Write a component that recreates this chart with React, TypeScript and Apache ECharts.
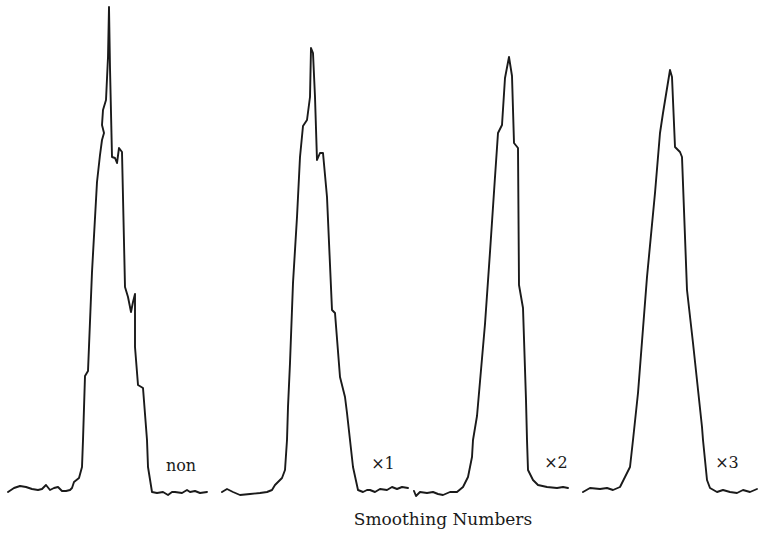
import React, { useEffect, useRef } from "react";
import * as echarts from "echarts";

// Each trace: [channel, intensity] pairs
const traceNon: [number, number][] = [
  [8, 8], [14, 12], [20, 14], [26, 13], [32, 11], [38, 10], [42, 11], [46, 15], [50, 10], [54, 12],
  [58, 13], [62, 9], [66, 9], [70, 10], [72, 12], [74, 18], [79, 22], [82, 33], [83, 60], [85, 124],
  [88, 129], [92, 228], [96, 300], [97, 318], [100, 345], [102, 360], [104, 367], [102, 375], [103, 390],
  [106, 400], [108, 443], [109, 493], [110, 432], [112, 343], [115, 342], [117, 337], [119, 352],
  [122, 348], [125, 213], [128, 203], [131, 188], [133, 198], [135, 206], [135, 153], [138, 115],
  [143, 112], [147, 60], [148, 33], [152, 8], [157, 7], [163, 8], [168, 5], [172, 8], [175, 8],
  [182, 7], [187, 10], [190, 8], [195, 9], [200, 7], [207, 8],
];
const traceX1: [number, number][] = [
  [222, 8], [227, 11], [233, 8], [240, 5], [250, 6], [260, 7], [267, 8], [272, 10], [275, 15],
  [282, 22], [285, 30], [287, 60], [288, 93], [290, 137], [293, 217], [297, 283], [300, 343],
  [303, 374], [307, 380], [310, 403], [311, 452], [313, 447], [315, 403], [317, 340], [320, 347],
  [323, 347], [327, 303], [332, 190], [335, 187], [340, 123], [345, 103], [347, 87], [350, 60],
  [353, 33], [358, 10], [363, 8], [367, 10], [370, 10], [375, 8], [380, 11], [387, 10], [392, 13],
  [397, 11], [402, 13], [408, 12],
];
const traceX2: [number, number][] = [
  [414, 9], [416, 4], [420, 8], [427, 7], [433, 8], [438, 6],
  [443, 5], [450, 8], [457, 8], [463, 13], [468, 23], [472, 43], [473, 60], [477, 84], [485, 176],
  [490, 248], [495, 323], [498, 367], [502, 375], [505, 422], [509, 443], [512, 424], [514, 357],
  [518, 352], [519, 215], [523, 192], [526, 100], [527, 60], [528, 30], [533, 20], [538, 15],
  [547, 13], [557, 12], [563, 13], [568, 12],
];
const traceX3: [number, number][] = [
  [583, 8], [590, 12], [600, 11], [607, 12], [613, 10], [620, 13], [625, 23], [630, 33], [633, 60],
  [638, 107], [647, 223], [655, 307], [660, 367], [663, 387], [670, 430], [672, 423], [675, 353],
  [680, 348], [682, 343], [687, 210], [693, 157], [702, 73], [703, 60], [707, 20], [710, 12],
  [717, 8], [723, 10], [730, 8], [737, 7], [743, 10], [750, 8], [757, 11],
];
const traces = [traceNon, traceX1, traceX2, traceX3];
const traceLabels = ["non", "×1", "×2", "×3"];
const axisTitle = "Smoothing Numbers";

export default function App() {
  const ref = useRef<HTMLDivElement>(null);
  useEffect(() => {
    if (!ref.current) return;
    const chart = echarts.init(ref.current, undefined, { renderer: "svg" });
    const labelPos = [
      [181, 465],
      [383, 463],
      [556, 462],
      [727, 462],
    ];
    chart.setOption({
      animation: false,
      backgroundColor: "#ffffff",
      grid: { left: 0, right: 0, top: 0, bottom: 36 },
      xAxis: { type: "value", min: 0, max: 758, show: false },
      yAxis: { type: "value", min: 0, max: 500, show: false },
      series: traces.map((t, i) => ({
        type: "line",
        name: traceLabels[i],
        data: t,
        showSymbol: false,
        symbol: "none",
        smooth: false,
        lineStyle: { color: "#1a1a1a", width: 1.9, join: "round", cap: "round" },
      })),
      graphic: [
        ...traceLabels.map((s, i) => ({
          type: "text",
          x: labelPos[i][0],
          y: labelPos[i][1],
          style: {
            text: s,
            fill: "#1a1a1a",
            font: "16px 'DejaVu Serif'",
            textAlign: "center",
            textVerticalAlign: "middle",
          },
        })),
        {
          type: "text",
          x: 443,
          y: 519,
          style: {
            text: axisTitle,
            fill: "#1a1a1a",
            font: "17px 'DejaVu Serif'",
            textAlign: "center",
            textVerticalAlign: "middle",
          },
        },
      ],
    });
    return () => chart.dispose();
  }, []);
  return (
    <div
      ref={ref}
      style={{ position: "absolute", left: 0, top: 0, width: 758, height: 536, background: "#fff" }}
    />
  );
}
